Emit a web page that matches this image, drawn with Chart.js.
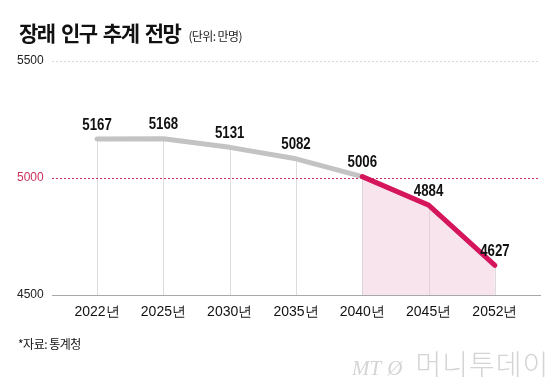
<!DOCTYPE html>
<html>
<head>
<meta charset="utf-8">
<script src="https://cdn.jsdelivr.net/npm/chart.js@4"></script>
<style>
  body { margin: 0; background: #fff; }
  #wrap { position: relative; width: 560px; height: 384px; overflow: hidden; }
  #chart { position: absolute; left: 0; top: 0; }
  .title { position: absolute; left: 19px; top: 17px; font: bold 21px "Noto Sans CJK KR", sans-serif; letter-spacing: -1.5px; word-spacing: 3px; color: #111; white-space: nowrap; }
  .title small { font-weight: normal; font-size: 12px; letter-spacing: -0.6px; word-spacing: 0; margin-left: 8px; color: #222; }
  .source { position: absolute; left: 18px; top: 335px; font: 12px "Noto Sans CJK KR", sans-serif; letter-spacing: -0.5px; color: #111; }
  .logo { position: absolute; left: 352px; top: 343px; font: 300 28px "Noto Sans CJK KR", sans-serif; color: #d4d4d4; white-space: nowrap; letter-spacing: 1px; }
  .logo i { font: italic 21px "Liberation Serif", serif; letter-spacing: 0; margin-right: 6px; }
</style>
</head>
<body>
<div id="wrap">
  <canvas id="chart" width="560" height="384"></canvas>
  <div class="title">장래 인구 추계 전망<small>(단위: 만명)</small></div>
  <div class="source">*자료: 통계청</div>
  <div class="logo"><i>MT</i><i>Ø</i> 머니투데이</div>
</div>
<script>
const years = ["2022년", "2025년", "2030년", "2035년", "2040년", "2045년", "2052년"];
const population = [5167, 5168, 5131, 5082, 5006, 4884, 4627];
const yTicks = [4500, 5000, 5500];
const splitIndex = 4; // 2040 onward drawn in red

const grayData = population.map((v, i) => ({ x: i, y: i <= splitIndex ? v : null }));
const redData = population.map((v, i) => ({ x: i, y: i >= splitIndex ? v : null }));

const numFont = '"Liberation Sans", Arial, sans-serif';

const guides = {
  id: "guides",
  beforeDatasetsDraw(chart) {
    const { ctx, chartArea, scales } = chart;
    const x = scales.x;
    const y = scales.y;
    ctx.save();
    // vertical drop lines from each point to the base
    ctx.strokeStyle = "#dcdcdc";
    ctx.lineWidth = 1;
    population.forEach((v, i) => {
      const px = Math.round(x.getPixelForValue(i)) + 0.5;
      ctx.beginPath();
      ctx.moveTo(px, y.getPixelForValue(v));
      ctx.lineTo(px, chartArea.bottom);
      ctx.stroke();
    });
    // horizontal dotted guides
    ctx.setLineDash([2, 2]);
    const top = Math.round(y.getPixelForValue(5500)) + 0.5;
    ctx.strokeStyle = "#d8d8d8";
    ctx.beginPath();
    ctx.moveTo(chartArea.left, top);
    ctx.lineTo(chartArea.right, top);
    ctx.stroke();
    const mid = Math.round(y.getPixelForValue(5000)) + 0.5;
    ctx.strokeStyle = "#c8315a";
    ctx.beginPath();
    ctx.moveTo(chartArea.left, mid);
    ctx.lineTo(chartArea.right, mid);
    ctx.stroke();
    ctx.restore();
  },
  afterDatasetsDraw(chart) {
    const { ctx, scales } = chart;
    ctx.save();
    ctx.font = "bold 17px " + numFont;
    ctx.fillStyle = "#111";
    ctx.textAlign = "center";
    ctx.textBaseline = "middle";
    population.forEach((v, i) => {
      const px = scales.x.getPixelForValue(i);
      const py = scales.y.getPixelForValue(v) - 14;
      // condensed look of the original figures
      ctx.setTransform(0.78, 0, 0, 1, px, py);
      ctx.fillText(String(v), 0, 0);
    });
    ctx.restore();
  }
};

new Chart(document.getElementById("chart"), {
  type: "line",
  data: {
    datasets: [
      {
        data: redData,
        borderColor: "#d5155c",
        backgroundColor: "rgba(240, 196, 212, 0.45)",
        borderWidth: 5,
        borderCapStyle: "round",
        borderJoinStyle: "round",
        pointRadius: 0,
        fill: "start",
        spanGaps: false
      },
      {
        data: grayData,
        borderColor: "#c3c3c3",
        borderWidth: 5,
        borderCapStyle: "round",
        borderJoinStyle: "round",
        pointRadius: 0,
        fill: false
      }
    ]
  },
  options: {
    responsive: false,
    animation: false,
    layout: { padding: { left: 17, right: 20, top: 61, bottom: 59 } },
    plugins: { legend: { display: false }, tooltip: { enabled: false } },
    scales: {
      x: {
        type: "linear",
        min: -0.68,
        max: 6.68,
        afterBuildTicks: (axis) => { axis.ticks = years.map((_, i) => ({ value: i })); },
        afterFit: (axis) => { axis.height = 30; },
        grid: { display: false, drawTicks: false },
        border: { display: true, color: "#a8a8a8", width: 1 },
        ticks: {
          padding: 9,
          color: "#111",
          font: { family: numFont, size: 14 },
          callback: (value) => years[value]
        }
      },
      y: {
        min: 4500,
        max: 5500,
        afterBuildTicks: (axis) => { axis.ticks = yTicks.map((v) => ({ value: v })); },
        afterFit: (axis) => { axis.width = 35; },
        grid: { display: false },
        border: { display: false },
        ticks: {
          crossAlign: "far",
          padding: 0,
          font: { family: numFont, size: 12 },
          color: (ctx) => (ctx.tick && ctx.tick.value === 5000 ? "#c8315a" : "#222"),
          callback: (value) => String(value)
        }
      }
    }
  },
  plugins: [guides]
});
</script>
</body>
</html>
